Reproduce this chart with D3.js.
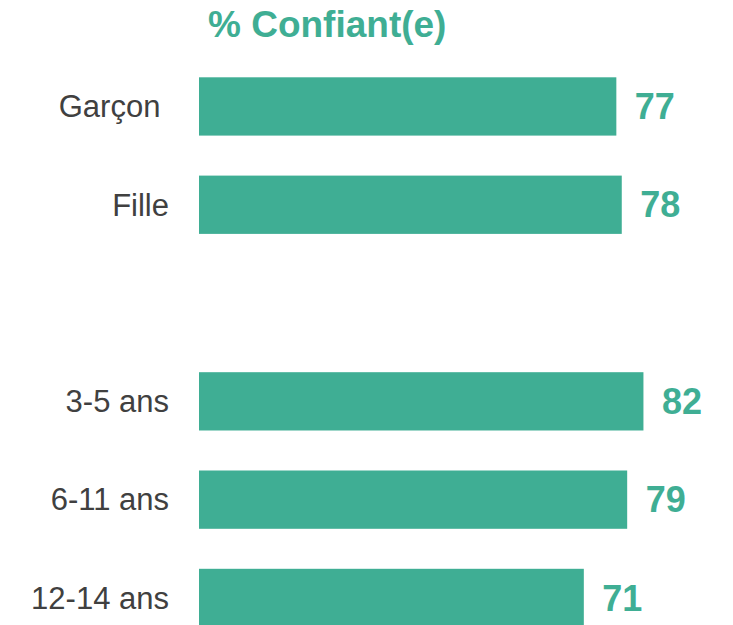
<!DOCTYPE html>
<html>
<head>
<meta charset="utf-8">
<script src="https://cdn.jsdelivr.net/npm/d3@7"></script>
<style>
  html, body { margin: 0; padding: 0; background: #ffffff; overflow: hidden; }
  svg { display: block; }
  text { white-space: pre; }
</style>
</head>
<body>
<script>
const title = "% Confiant(e)";
const categories = ["Garçon ", "Fille", "", "3-5 ans", "6-11 ans", "12-14 ans"];
const values = [77, 78, null, 82, 79, 71];

const W = 733, H = 625;
const teal = "#3FAE94";
const labelColor = "#404040";
const font = "Arial, 'Liberation Sans', Helvetica, sans-serif";

const svg = d3.select("body").append("svg").attr("width", W).attr("height", H);

const x = d3.scaleLinear().domain([0, 100]).range([199, 741]);
const pad = 0.407;
const step = 98.3;
const y = d3.scaleBand()
  .domain(categories.map((c, i) => i))
  .range([77.3 - step * pad, 77.3 - step * pad + step * (categories.length + pad)])
  .paddingInner(pad).paddingOuter(pad);

const data = categories.map((c, i) => ({ i, c, v: values[i] }));
const filled = data.filter(d => d.v !== null);

svg.append("text")
  .attr("x", 208).attr("y", 37)
  .attr("font-family", font).attr("font-weight", "bold")
  .attr("font-size", 37).attr("fill", teal)
  .text(title);

svg.selectAll("rect.bar").data(filled).join("rect")
  .attr("class", "bar")
  .attr("x", x(0))
  .attr("y", d => y(d.i))
  .attr("width", d => x(d.v) - x(0))
  .attr("height", y.bandwidth())
  .attr("fill", teal);

svg.selectAll("text.cat").data(data.filter(d => d.c !== "")).join("text")
  .attr("class", "cat")
  .attr("x", 169)
  .attr("y", d => y(d.i) + y.bandwidth() / 2)
  .attr("dy", "0.35em")
  .attr("text-anchor", "end")
  .attr("font-family", font).attr("font-size", 31)
  .attr("fill", labelColor)
  .text(d => d.c);

svg.selectAll("text.val").data(filled).join("text")
  .attr("class", "val")
  .attr("x", d => x(d.v) + 18.5)
  .attr("y", d => y(d.i) + y.bandwidth() / 2)
  .attr("dy", "0.35em")
  .attr("font-family", font).attr("font-weight", "bold").attr("font-size", 36)
  .attr("fill", teal)
  .text(d => d.v);
</script>
</body>
</html>
